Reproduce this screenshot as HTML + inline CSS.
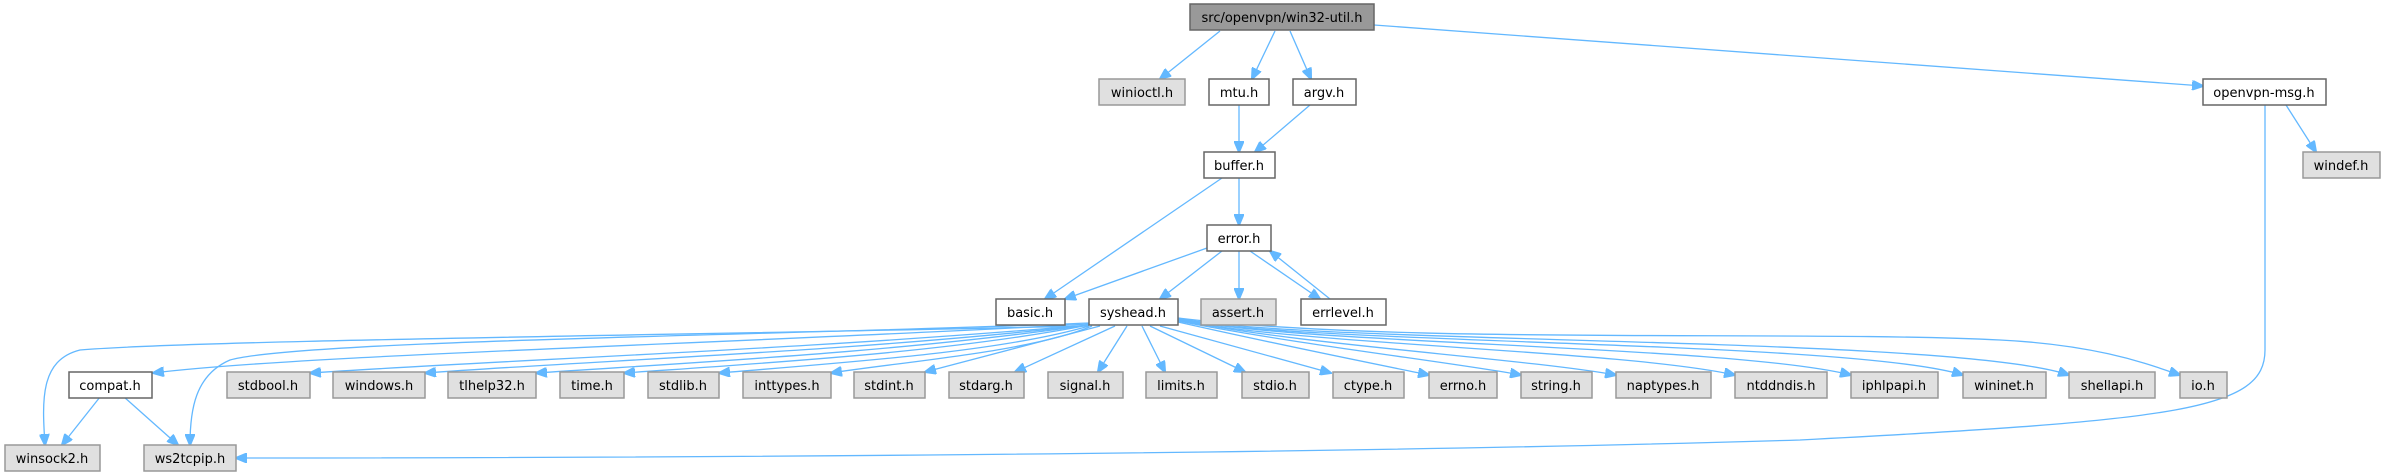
<!DOCTYPE html>
<html><head><meta charset="utf-8"><style>
html,body{margin:0;padding:0;background:#fff;}
svg{display:block}
text{font-family:"DejaVu Sans","Liberation Sans",sans-serif;font-size:13px;fill:#000;text-anchor:middle}
.w{fill:#fff;stroke:#666;stroke-width:1.5}
.g{fill:#e0e0e0;stroke:#999;stroke-width:1.5}
.r{fill:#999;stroke:#666;stroke-width:1.5}
path{fill:none;stroke:#63b8ff;stroke-width:1.3}
</style></head><body>
<svg width="2382" height="476" viewBox="0 0 2382 476" xmlns="http://www.w3.org/2000/svg">
<defs><marker id="a" markerWidth="12" markerHeight="10" refX="11" refY="5" orient="auto" markerUnits="userSpaceOnUse"><path d="M0,0 L12,5 L0,10 Z" style="fill:#63b8ff;stroke:#63b8ff"/></marker></defs>
<g marker-end="url(#a)">
<path d="M1220 31 L1160 79"/>
<path d="M1275 31 L1252 79"/>
<path d="M1290 31 L1311 79"/>
<path d="M1374 25 L2203 86"/>
<path d="M1239 105 L1239 152"/>
<path d="M1310 105 L1255 152"/>
<path d="M1222 178 L1045 299"/>
<path d="M1239 178 L1239 225"/>
<path d="M1207 248 L1065 299"/>
<path d="M1222 251 L1160 299"/>
<path d="M1239 251 L1239 299"/>
<path d="M1250 251 L1320 299"/>
<path d="M1330 299 L1270 251"/>
<path d="M2286 105 L2316 152"/>
<path d="M2265 105 L2265 350 C2265 410 2180 420 1800 440 C1300 455 600 458 236 458"/>
<path d="M100 397 L62 445"/>
<path d="M124 397 L178 445"/>
<path d="M1089 326 C700 335 200 340 80 350 C40 360 42 400 45 445"/>
<path d="M1089 323 C800 335 300 340 230 360 C195 375 190 410 190 445"/>
<path d="M1089 324 C700 345 300 355 153 373"/>
<path d="M1089 325 C800 350 500 360 310 373"/>
<path d="M1089 325 C850 352 600 360 425 373"/>
<path d="M1089 325 C900 352 700 362 536 373"/>
<path d="M1089 325 C950 352 780 362 624 373"/>
<path d="M1089 326 C1000 352 850 362 719 373"/>
<path d="M1092 326 C1030 352 900 362 831 373"/>
<path d="M1100 326 L925 372"/>
<path d="M1115 326 L1015 372"/>
<path d="M1127 326 L1098 372"/>
<path d="M1142 326 L1165 372"/>
<path d="M1150 326 L1245 372"/>
<path d="M1160 326 L1331 373"/>
<path d="M1178 322 C1280 345 1380 365 1429 375"/>
<path d="M1178 321 C1300 345 1450 362 1521 375"/>
<path d="M1178 320 C1300 345 1520 358 1616 375"/>
<path d="M1178 320 C1300 345 1620 350 1735 375"/>
<path d="M1178 319 C1300 345 1730 345 1851 375"/>
<path d="M1178 319 C1300 345 1850 340 1963 375"/>
<path d="M1178 318 C1300 345 1950 335 2069 375"/>
<path d="M1178 318 C1400 345 1800 330 2000 340 C2100 345 2150 365 2180 375"/>
</g>
<rect class="r" x="1190" y="4" width="184" height="26"/><text x="1282" y="22">src/openvpn/win32-util.h</text>
<rect class="g" x="1099" y="79" width="86" height="26"/><text x="1142" y="97">winioctl.h</text>
<rect class="w" x="1209" y="79" width="60" height="26"/><text x="1239" y="97">mtu.h</text>
<rect class="w" x="1293" y="79" width="63" height="26"/><text x="1324" y="97">argv.h</text>
<rect class="w" x="2203" y="79" width="123" height="26"/><text x="2264" y="97">openvpn-msg.h</text>
<rect class="w" x="1204" y="152" width="71" height="26"/><text x="1239" y="170">buffer.h</text>
<rect class="g" x="2303" y="152" width="77" height="26"/><text x="2341" y="170">windef.h</text>
<rect class="w" x="1207" y="225" width="64" height="26"/><text x="1239" y="243">error.h</text>
<rect class="w" x="996" y="299" width="69" height="26"/><text x="1030" y="317">basic.h</text>
<rect class="w" x="1089" y="299" width="89" height="26"/><text x="1133" y="317">syshead.h</text>
<rect class="g" x="1201" y="299" width="75" height="26"/><text x="1238" y="317">assert.h</text>
<rect class="w" x="1301" y="299" width="85" height="26"/><text x="1343" y="317">errlevel.h</text>
<rect class="w" x="69" y="372" width="83" height="26"/><text x="110" y="390">compat.h</text>
<rect class="g" x="227" y="372" width="83" height="26"/><text x="268" y="390">stdbool.h</text>
<rect class="g" x="333" y="372" width="92" height="26"/><text x="379" y="390">windows.h</text>
<rect class="g" x="448" y="372" width="88" height="26"/><text x="492" y="390">tlhelp32.h</text>
<rect class="g" x="560" y="372" width="64" height="26"/><text x="592" y="390">time.h</text>
<rect class="g" x="648" y="372" width="71" height="26"/><text x="683" y="390">stdlib.h</text>
<rect class="g" x="743" y="372" width="88" height="26"/><text x="787" y="390">inttypes.h</text>
<rect class="g" x="854" y="372" width="71" height="26"/><text x="889" y="390">stdint.h</text>
<rect class="g" x="949" y="372" width="75" height="26"/><text x="986" y="390">stdarg.h</text>
<rect class="g" x="1048" y="372" width="75" height="26"/><text x="1085" y="390">signal.h</text>
<rect class="g" x="1146" y="372" width="71" height="26"/><text x="1181" y="390">limits.h</text>
<rect class="g" x="1242" y="372" width="67" height="26"/><text x="1275" y="390">stdio.h</text>
<rect class="g" x="1333" y="372" width="71" height="26"/><text x="1368" y="390">ctype.h</text>
<rect class="g" x="1429" y="372" width="68" height="26"/><text x="1463" y="390">errno.h</text>
<rect class="g" x="1521" y="372" width="71" height="26"/><text x="1556" y="390">string.h</text>
<rect class="g" x="1616" y="372" width="95" height="26"/><text x="1663" y="390">naptypes.h</text>
<rect class="g" x="1735" y="372" width="92" height="26"/><text x="1781" y="390">ntddndis.h</text>
<rect class="g" x="1851" y="372" width="87" height="26"/><text x="1894" y="390">iphlpapi.h</text>
<rect class="g" x="1963" y="372" width="83" height="26"/><text x="2004" y="390">wininet.h</text>
<rect class="g" x="2069" y="372" width="86" height="26"/><text x="2112" y="390">shellapi.h</text>
<rect class="g" x="2180" y="372" width="47" height="26"/><text x="2203" y="390">io.h</text>
<rect class="g" x="5" y="445" width="95" height="26"/><text x="52" y="463">winsock2.h</text>
<rect class="g" x="144" y="445" width="92" height="26"/><text x="190" y="463">ws2tcpip.h</text>
</svg>
</body></html>
